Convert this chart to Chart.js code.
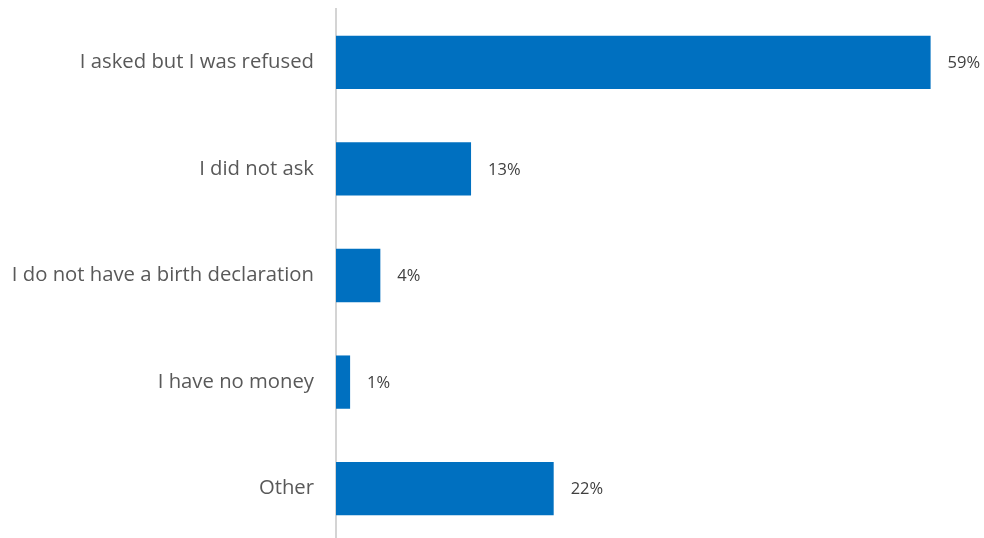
<!DOCTYPE html>
<html>
<head>
<meta charset="utf-8">
<script src="https://cdn.jsdelivr.net/npm/chart.js@4"></script>
<style>
  html, body { margin: 0; padding: 0; background: #fff; overflow: hidden; }
  #wrap { width: 984px; height: 538px; overflow: hidden; }
</style>
</head>
<body>
<div id="wrap"><canvas id="chart" width="984" height="545"></canvas></div>
<script>
const categories = [
  "I asked but I was refused",
  "I did not ask",
  "I do not have a birth declaration",
  "I have no money",
  "Other"
];
const shares = [59.0, 13.4, 4.4, 1.4, 21.6];

const barLabels = {
  id: "barLabels",
  afterDatasetsDraw(chart) {
    const ctx = chart.ctx;
    const meta = chart.getDatasetMeta(0);
    ctx.save();
    ctx.font = "16.5px 'Open Sans', 'Noto Sans', sans-serif";
    ctx.fillStyle = "#404040";
    ctx.textBaseline = "middle";
    ctx.textAlign = "left";
    meta.data.forEach((bar, i) => {
      ctx.fillText(Math.round(shares[i]) + "%", bar.x + 17, bar.y + 1);
    });
    ctx.restore();
  }
};

new Chart(document.getElementById("chart"), {
  type: "bar",
  data: {
    labels: categories,
    datasets: [{
      data: shares,
      backgroundColor: "#0070c0",
      barPercentage: 0.5,
      categoryPercentage: 1.0
    }]
  },
  options: {
    indexAxis: "y",
    responsive: false,
    animation: false,
    layout: { padding: { top: 9, bottom: 3, left: 0, right: 3 } },
    plugins: { legend: { display: false }, tooltip: { enabled: false } },
    scales: {
      x: { display: false, min: 0, max: 64 },
      y: {
        afterFit(scale) {
          scale.width = 336;
          scale.paddingTop = 0;
          scale.paddingBottom = 0;
        },
        grid: { display: false, drawTicks: false },
        border: { display: true, color: "#d4d4d4", width: 2 },
        ticks: {
          color: "#595959",
          padding: 22,
          font: { family: "'Open Sans', 'Noto Sans', sans-serif", size: 20.3 }
        }
      }
    }
  },
  plugins: [barLabels]
});
</script>
</body>
</html>
